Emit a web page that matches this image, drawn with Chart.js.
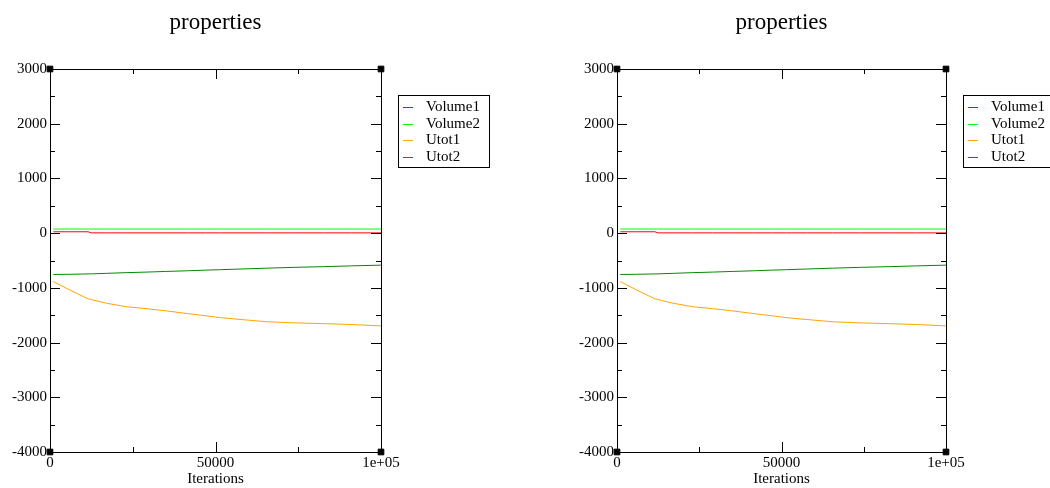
<!DOCTYPE html>
<html>
<head>
<meta charset="utf-8">
<script src="https://cdn.jsdelivr.net/npm/chart.js@4"></script>
<style>
  body { margin: 0; background: #fff; width: 1050px; height: 488px; overflow: hidden; position: relative; }
  canvas { position: absolute; top: 0; }
</style>
</head>
<body>
<canvas id="left" width="525" height="488" style="left:0"></canvas>
<canvas id="right" width="483" height="488" style="left:567px"></canvas>
<script>
// データ
const iterations = [1000, 6000, 11500, 12500, 17000, 23000, 29000, 35000, 41500, 47000, 51500, 58000, 65500, 74000, 83000, 91000, 100000];
const volume1 = [25, 25, 25, 5, 5, 5, 5, 5, 5, 5, 5, 5, 5, 5, 5, 5, 5];
const volume2 = [75, 75, 75, 75, 75, 75, 75, 75, 75, 75, 75, 75, 75, 75, 75, 75, 75];
const utot1 = [-885, -1040, -1200, -1215, -1280, -1345, -1380, -1420, -1470, -1510, -1545, -1580, -1620, -1640, -1655, -1670, -1695];
const utot2 = [-755, -752, -745, -744, -735, -722, -712, -700, -688, -676, -668, -655, -640, -625, -612, -598, -585];
const seriesNames = ['Volume1', 'Volume2', 'Utot1', 'Utot2'];
const seriesColors = ['#ff0000', '#00ff00', '#ffa500', '#008b00'];
const cornerX = [0, 100000, 0, 100000];
const cornerY = [3000, 3000, -4000, -4000];
const yTicks = [-4000, -3000, -2000, -1000, 0, 1000, 2000, 3000];
const xTickLabels = { 0: '0', 50000: '50000', 100000: '1e+05' };

const FONT = "'Liberation Serif', 'Times New Roman', serif";

function pts(ys) {
  return iterations.map((x, i) => ({ x: x, y: ys[i] }));
}

// xmgrace風の枠・内向き目盛り・タイトル・凡例
const gracePlugin = {
  id: 'grace',
  afterDraw(chart, args, opts) {
    const ctx = chart.ctx;
    const a = chart.chartArea;
    const xs = chart.scales.x, ys = chart.scales.y;
    ctx.save();
    ctx.strokeStyle = '#000';
    ctx.lineWidth = 1;
    ctx.strokeRect(Math.round(a.left) + 0.5, Math.round(a.top) + 0.5, Math.round(a.right - a.left), Math.round(a.bottom - a.top));
    ctx.beginPath();
    for (let v = -4000; v <= 3000; v += 500) {
      const y = Math.round(ys.getPixelForValue(v)) + 0.5;
      const len = v % 1000 === 0 ? 10 : 5;
      ctx.moveTo(a.left, y); ctx.lineTo(a.left + len, y);
      ctx.moveTo(a.right, y); ctx.lineTo(a.right - len, y);
    }
    for (let v = 0; v <= 100000; v += 25000) {
      const x = Math.round(xs.getPixelForValue(v)) + 0.5;
      const len = v % 50000 === 0 ? 10 : 5;
      ctx.moveTo(x, a.bottom); ctx.lineTo(x, a.bottom - len);
      ctx.moveTo(x, a.top); ctx.lineTo(x, a.top + len);
    }
    ctx.stroke();

    // タイトル
    ctx.fillStyle = '#000';
    ctx.font = '23px ' + FONT;
    ctx.textAlign = 'center';
    ctx.textBaseline = 'middle';
    ctx.fillText('properties', (a.left + a.right) / 2, 23);

    // 凡例
    const lx = opts.x, ly = 95, rowH = 16.7;
    ctx.font = '15px ' + FONT;
    ctx.textAlign = 'left';
    ctx.strokeStyle = '#000';
    ctx.strokeRect(lx + 0.5, ly + 0.5, 91, 72);
    seriesNames.forEach((name, i) => {
      const y = ly + 12 + i * rowH;
      ctx.strokeStyle = seriesColors[i];
      ctx.beginPath();
      ctx.moveTo(lx + 5, Math.round(y) + 0.5);
      ctx.lineTo(lx + 15, Math.round(y) + 0.5);
      ctx.stroke();
      ctx.fillStyle = '#000';
      ctx.fillText(name, lx + 28, y);
    });
    ctx.restore();
  }
};

function makeChart(id, rightPad, legendX) {
  const datasets = [volume1, volume2, utot1, utot2].map((ys, i) => ({
    label: seriesNames[i],
    data: pts(ys),
    borderColor: seriesColors[i],
    borderWidth: 1,
    pointRadius: 0,
    tension: 0
  }));
  datasets.push({
    label: 'corners',
    data: cornerX.map((x, i) => ({ x: x, y: cornerY[i] })),
    showLine: false,
    pointStyle: 'rect',
    pointRadius: 4,
    pointBackgroundColor: '#000',
    pointBorderColor: '#000',
    clip: false
  });

  new Chart(document.getElementById(id).getContext('2d'), {
    type: 'line',
    data: { datasets: datasets },
    options: {
      responsive: false,
      animation: false,
      events: [],
      layout: { padding: { top: 69, right: rightPad, left: 0, bottom: 0 } },
      scales: {
        x: {
          type: 'linear',
          min: 0, max: 100000,
          afterFit: s => { s.height = 36; },
          afterBuildTicks: s => { s.ticks = Object.keys(xTickLabels).map(v => ({ value: +v })); },
          grid: { display: false, drawTicks: false },
          border: { display: false },
          ticks: {
            padding: 2, color: '#000', font: { family: FONT, size: 15 },
            maxRotation: 0, autoSkip: false,
            callback: v => xTickLabels[v]
          },
          title: { display: true, text: 'Iterations', color: '#000', font: { family: FONT, size: 15 }, padding: 0 }
        },
        y: {
          min: -4000, max: 3000,
          afterFit: s => { s.width = 50; },
          afterBuildTicks: s => { s.ticks = yTicks.map(v => ({ value: v })); },
          grid: { display: false, drawTicks: false },
          border: { display: false },
          ticks: {
            padding: 3, color: '#000', font: { family: FONT, size: 15 }, autoSkip: false,
            callback: v => String(v)
          }
        }
      },
      plugins: {
        legend: { display: false },
        tooltip: { enabled: false },
        grace: { x: legendX }
      }
    },
    plugins: [gracePlugin]
  });
}

makeChart('left', 144, 398);
makeChart('right', 104, 396);
</script>
</body>
</html>
